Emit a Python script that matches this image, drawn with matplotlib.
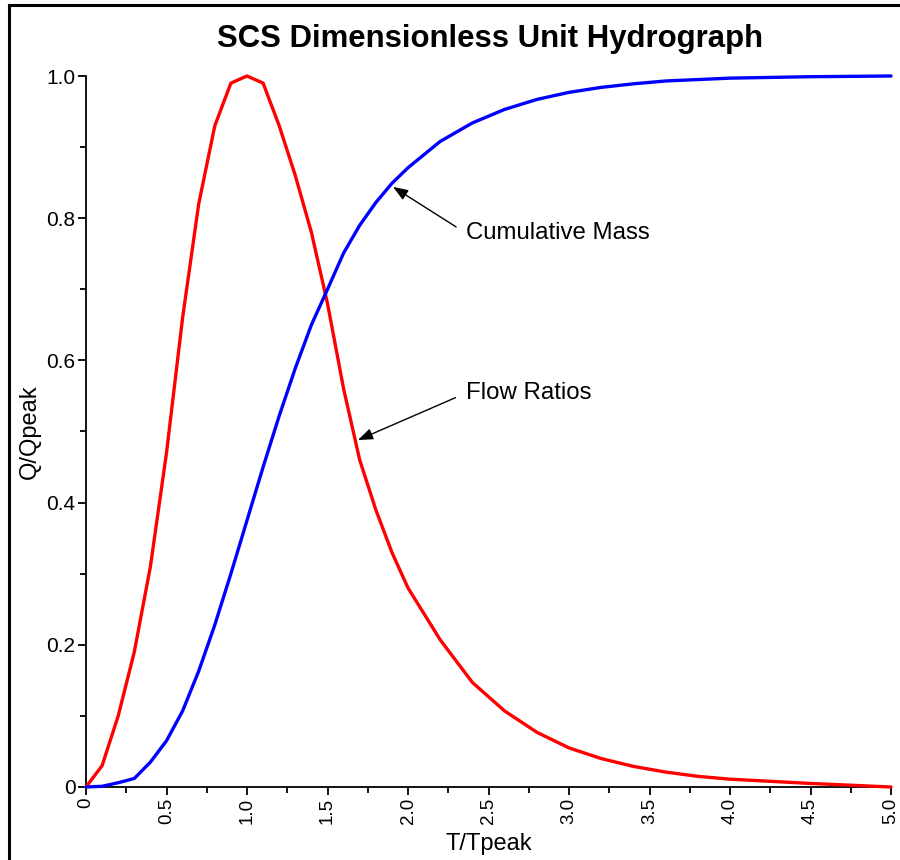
import matplotlib
matplotlib.use("Agg")
import matplotlib.pyplot as plt
from matplotlib.lines import Line2D
from matplotlib.ticker import MultipleLocator, FixedLocator

plt.rcParams['font.family'] = ['Liberation Sans', 'DejaVu Sans']

# SCS dimensionless unit hydrograph ordinates
t_ratio = [0.0, 0.1, 0.2, 0.3, 0.4, 0.5, 0.6, 0.7, 0.8, 0.9, 1.0,
           1.1, 1.2, 1.3, 1.4, 1.5, 1.6, 1.7, 1.8, 1.9, 2.0,
           2.2, 2.4, 2.6, 2.8, 3.0, 3.2, 3.4, 3.6, 3.8, 4.0, 4.5, 5.0]
flow_ratio = [0.000, 0.030, 0.100, 0.190, 0.310, 0.470, 0.660, 0.820, 0.930, 0.990, 1.000,
              0.990, 0.930, 0.860, 0.780, 0.680, 0.560, 0.460, 0.390, 0.330, 0.280,
              0.207, 0.147, 0.107, 0.077, 0.055, 0.040, 0.029, 0.021, 0.015, 0.011, 0.005, 0.000]
mass_ratio = [0.000, 0.001, 0.006, 0.012, 0.035, 0.065, 0.107, 0.163, 0.228, 0.300, 0.375,
              0.450, 0.522, 0.589, 0.650, 0.700, 0.751, 0.790, 0.822, 0.849, 0.871,
              0.908, 0.934, 0.953, 0.967, 0.977, 0.984, 0.989, 0.993, 0.995, 0.997, 0.999, 1.000]

x_ticks = [0, 0.5, 1.0, 1.5, 2.0, 2.5, 3.0, 3.5, 4.0, 4.5, 5.0]
x_tick_labels = ["0", "0.5", "1.0", "1.5", "2.0", "2.5", "3.0", "3.5", "4.0", "4.5", "5.0"]
y_ticks = [0, 0.2, 0.4, 0.6, 0.8, 1.0]
y_tick_labels = ["0", "0.2", "0.4", "0.6", "0.8", "1.0"]

fig = plt.figure(figsize=(9, 8.6), dpi=100)
ax = fig.add_axes([86 / 900, 73 / 860, 805 / 900, 711 / 860])

ax.plot(t_ratio, flow_ratio, color='#ff0000', lw=2.4, solid_joinstyle='round',
        solid_capstyle='round', clip_on=False, zorder=3)
ax.plot(t_ratio, mass_ratio, color='#0000ff', lw=2.4, solid_joinstyle='round',
        solid_capstyle='round', clip_on=False, zorder=3)

ax.set_xlim(0, 5)
ax.set_ylim(0, 1)
ax.spines['top'].set_visible(False)
ax.spines['right'].set_visible(False)
for s in ('left', 'bottom'):
    ax.spines[s].set_linewidth(1.3)

ax.xaxis.set_major_locator(FixedLocator(x_ticks))
ax.set_xticklabels(x_tick_labels, rotation=90)
ax.xaxis.set_minor_locator(MultipleLocator(0.25))
ax.yaxis.set_major_locator(FixedLocator(y_ticks))
ax.set_yticklabels(y_tick_labels)
ax.yaxis.set_minor_locator(MultipleLocator(0.1))
ax.tick_params(which='major', direction='out', length=5.5, width=1.3, pad=2)
ax.tick_params(which='minor', direction='out', length=4, width=1.3)
ax.tick_params(axis='x', which='major', labelsize=13.5, pad=2)
ax.tick_params(axis='y', which='major', labelsize=15)

ax.set_xlabel('T/Tpeak', fontsize=17, labelpad=7)
ax.set_ylabel('Q/Qpeak', fontsize=17, labelpad=4)

fig.text(0.544, 0.955, 'SCS Dimensionless Unit Hydrograph', ha='center', va='center',
         fontsize=22.4, fontweight='bold')

arrow = dict(arrowstyle='-|>,head_length=0.45,head_width=0.17', color='black', lw=1.0,
             mutation_scale=20, shrinkA=6, shrinkB=0, relpos=(0.0, 0.5))
ax.annotate('Cumulative Mass', xy=(1.907, 0.844), xytext=(2.36, 0.779),
            fontsize=17.3, va='center', ha='left', arrowprops=arrow)
ax.annotate('Flow Ratios', xy=(1.689, 0.488), xytext=(2.36, 0.554),
            fontsize=17.3, va='center', ha='left', arrowprops=arrow)

# frame lines along the top and left edges of the figure
fig.add_artist(Line2D([9 / 900, 1.0], [1 - 4.5 / 860, 1 - 4.5 / 860], color='black', lw=2.2,
                      transform=fig.transFigure))
fig.add_artist(Line2D([9 / 900, 9 / 900], [0, 1 - 4.5 / 860], color='black', lw=2.2,
                      transform=fig.transFigure))

fig.savefig('out.png', dpi=100)
